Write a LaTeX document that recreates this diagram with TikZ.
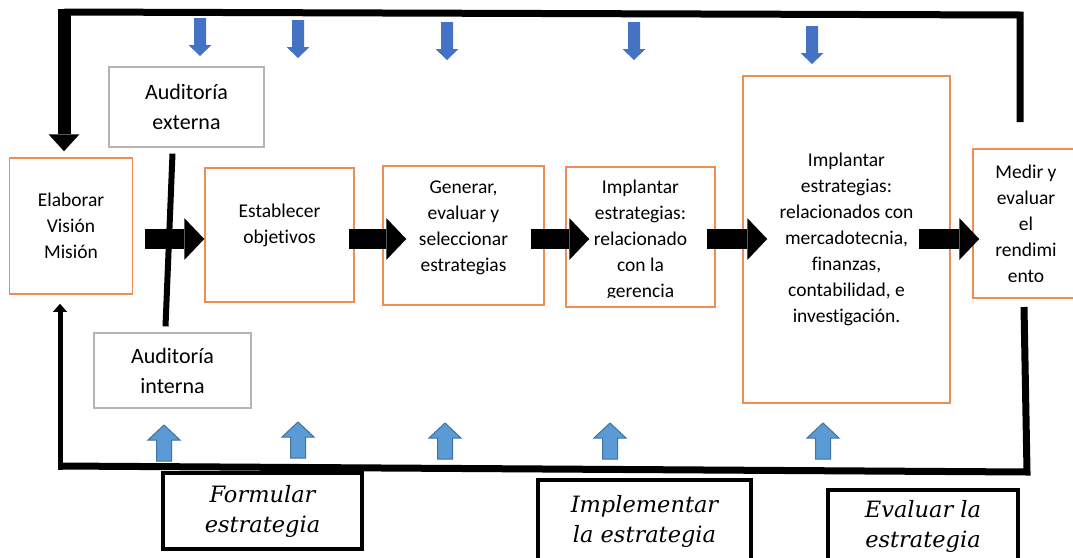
\documentclass[tikz,border=0pt]{standalone}
\usepackage{fontspec}
\setmainfont{Carlito}[RawFeature={-liga;-clig;-calt}]
\newfontfamily\handfont{DejaVu Serif}
\usetikzlibrary{arrows.meta,calc}

\definecolor{boxorange}{RGB}{240,140,80}
\definecolor{boxgray}{RGB}{180,180,180}
\definecolor{downblue}{RGB}{68,114,196}
\definecolor{upblue}{RGB}{91,155,213}
\definecolor{upedge}{RGB}{65,113,156}

\tikzset{
  obox/.style={draw=boxorange, line width=1.5pt, inner sep=0pt, align=center, font=\fontsize{19.5}{26}\selectfont},
  gbox/.style={draw=boxgray, line width=1.2pt, inner sep=0pt, align=center, font=\fontsize{22}{30}\selectfont},
  btext/.style={align=center, inner sep=0pt, font=\fontsize{19.5}{26}\selectfont},
  lbox/.style={draw, line width=3.5pt, inner sep=0pt, align=center, font=\handfont\itshape\fontsize{22.5}{30}\selectfont},
  fbline/.style={line width=7pt, line join=miter, black},
  bigarrow/.style={line width=20pt, -{Triangle[length=20pt,width=42pt,line width=0pt]}},
}

\begin{document}
\begin{tikzpicture}[x=1pt, y=-1pt]

    \useasboundingbox (0,0) rectangle (1073,557);
    \def\ay{239} % height of the flow arrows
    \coordinate (arow) at (0,\ay);

    % process boxes
    \node[obox, minimum width=123pt, minimum height=136pt] (elab) at (71,226) {Elaborar\\Visión\\Misión};
    \node[obox, minimum width=149pt, minimum height=134pt] (estab) at (279.5,235) {};
    \node[btext] (estabT) at (279.5,225) {Establecer\\objetivos};
    \node[obox, minimum width=161pt, minimum height=139pt] (gen) at (463.5,235.5) {};
    \node[btext] (genT) at (463.5,228) {Generar,\\evaluar y\\seleccionar\\estrategias};
    \node[obox, minimum width=149pt, minimum height=140pt] (ger) at (640.5,237) {};
    \begin{scope}
        \clip (567,168) rectangle (714,297);
        \node[btext] (gerT) at (640.5,240) {Implantar\\estrategias:\\relacionado\\con la\\gerencia};
    \end{scope}
    \node[obox, minimum width=207pt, minimum height=327pt] (impl) at (846.5,239.5)
        {Implantar\\estrategias:\\relacionados con\\mercadotecnia,\\finanzas,\\contabilidad, e\\investigación.};
    \node[obox, minimum width=106pt, minimum height=149pt] (medir) at (1026,223.5) {Medir y\\evaluar\\el\\rendimi\\ento};

    % audits
    \node[gbox, minimum width=155pt, minimum height=80pt] (audE) at (186.5,107) {Auditoría\\externa};
    \node[gbox, minimum width=157pt, minimum height=75pt] (audI) at (172.5,370.5) {Auditoría\\interna};
    \draw[fbline, line width=6pt] ($(audE.south)+(-14,6)$) -- ($(audI.north)+(-7,-6)$);

    % flow arrows
    \foreach \a/\b/\s/\e in {elab/estab/12/0, estab/gen/-6/24, gen/ger/-14/24, ger/impl/-9/25, impl/medir/-32/7}
        \draw[bigarrow] ($(\a.east |- arow)+(\s,0)$) -- ($(\b.west |- arow)+(\e,0)$);

    % feedback loop, top
    \coordinate (fbR) at (1020,122);
    \coordinate (fbTR) at (1020,15);
    \coordinate (fbTL) at (64,12);
    \draw[fbline] (fbR) -- (fbTR) -- (fbTL);
    \draw[line width=13pt, -{Triangle[length=17pt,width=31pt,line width=0pt]}]
        ($(fbTL)+(0,-3.5)$) -- ($(elab.north)+(-7,-6)$);

    % feedback loop, bottom
    \coordinate (fbB0) at (1024,307);
    \coordinate (fbBR) at (1027,472);
    \coordinate (fbBL) at (60,466);
    \draw[fbline] (fbB0) -- (fbBR) -- (fbBL);
    \draw[line width=5pt, -{Triangle[length=8pt,width=14pt,line width=0pt]}]
        ($(fbBL)+(0,3.5)$) -- ($(elab.south)+(-11,9)$);

    % inputs from the top
    \foreach \bx/\by in {200/18, 298/20, 447/22, 634/22, 812/26}
        \fill[downblue] ({\bx-6},\by) -- ({\bx+6},\by) -- ({\bx+6},{\by+27}) -- ({\bx+11.5},{\by+27})
            -- (\bx,{\by+38}) -- ({\bx-11.5},{\by+27}) -- ({\bx-6},{\by+27}) -- cycle;

    % inputs from the bottom
    \foreach \bx/\by in {164/461, 298/458, 445/459, 610/459, 823/459}
        \draw[fill=upblue, draw=upedge, line width=1pt] ({\bx-7.5},\by) -- ({\bx+7.5},\by) -- ({\bx+7.5},{\by-21})
            -- ({\bx+16},{\by-21}) -- (\bx,{\by-36}) -- ({\bx-16},{\by-21}) -- ({\bx-7.5},{\by-21}) -- cycle;

    % stages
    \node[lbox, minimum width=199pt, minimum height=76pt] (form) at (262.5,511) {Formular\\estrategia};
    \node[lbox, minimum width=213pt, minimum height=82pt] (implE) at (644.5,521) {Implementar\\la estrategia};
    \node[lbox, minimum width=190pt, minimum height=72pt] (evalE) at (923,526) {Evaluar la\\estrategia};

\end{tikzpicture}
\end{document}
